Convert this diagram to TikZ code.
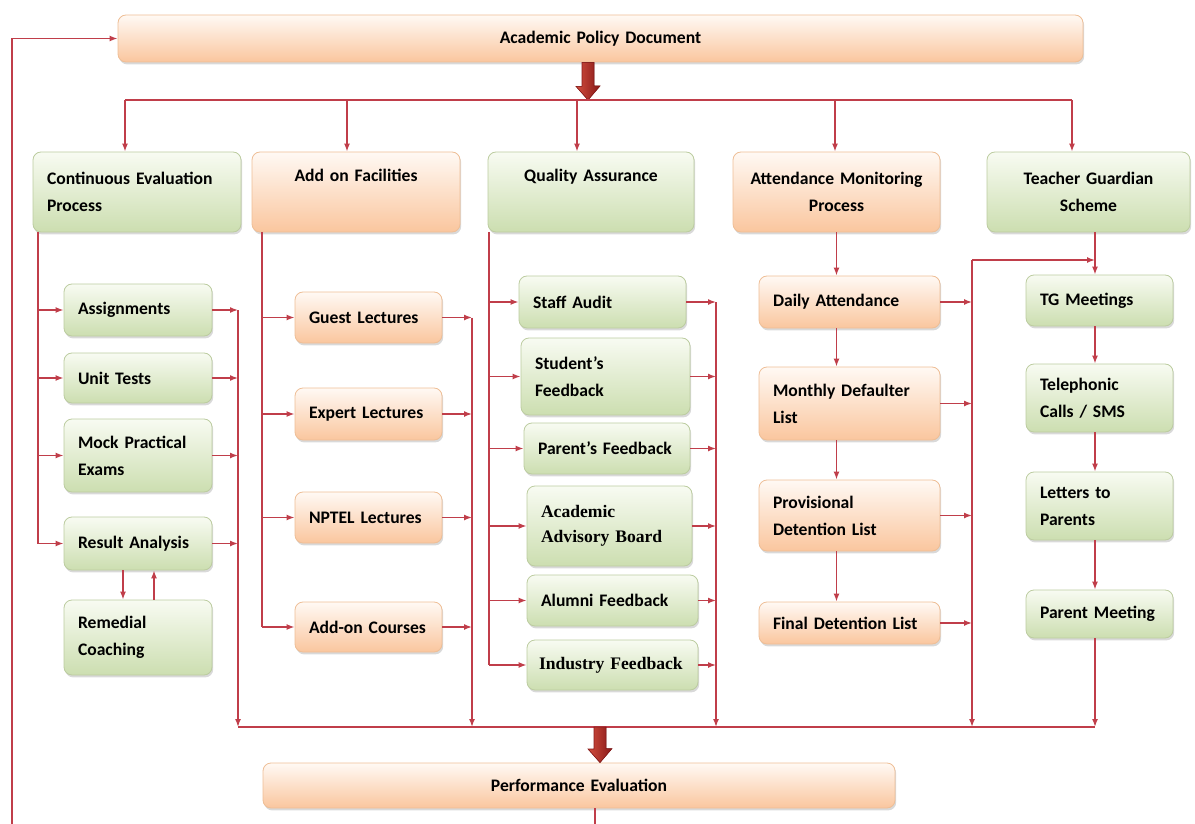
\documentclass[tikz,border=0pt]{standalone}
\usepackage{fontspec}
\setmainfont{Carlito}
\newfontfamily\serifbf{Liberation Serif}
\usetikzlibrary{arrows.meta,shadows}

\definecolor{linered}{RGB}{192,62,74}
\definecolor{gtop}{RGB}{248,251,242}
\definecolor{gbot}{RGB}{204,222,176}
\definecolor{gline}{RGB}{188,204,160}
\definecolor{otop}{RGB}{255,249,244}
\definecolor{obot}{RGB}{250,198,158}
\definecolor{oline}{RGB}{238,190,150}
\definecolor{arrowdark}{RGB}{135,24,24}
\definecolor{arrowlight}{RGB}{210,78,62}

\begin{document}
\begin{tikzpicture}[x=0.5pt,y=-0.5pt,>={Latex[length=4pt,width=3pt]},
	line/.style={draw=linered,line width=0.75pt},
	link/.style={line,->},
	box/.style={rectangle,rounded corners=4pt,line width=0.4pt,inner xsep=7pt,inner ysep=4pt,
		align=left,font=\fontsize{8.8}{13.5}\selectfont\bfseries,
		drop shadow={opacity=0.3,shadow xshift=0.6pt,shadow yshift=-1.2pt}},
	gbox/.style={box,draw=gline,top color=gtop,bottom color=gbot},
	obox/.style={box,draw=oline,top color=otop,bottom color=obot},
	hdr/.style={minimum height=40pt,inner ysep=6pt,align=center},
	bigarrow/.style={left color=arrowlight,right color=arrowdark,draw=arrowdark,line width=0.3pt}]
	\useasboundingbox (0,0) rectangle (1195,824);

	\node[obox,text width=468.5pt,align=center,minimum height=23.5pt] (apd) at (600.5,38.5) {Academic Policy Document};

	\node[gbox,hdr,text width=90pt,align=left] (cep) at (137,192) {Continuous Evaluation\\Process};
	\node[obox,hdr,text width=90pt,text depth=16.5pt] (aof) at (356,192) {Add on Facilities};
	\node[gbox,hdr,text width=89pt,text depth=16.5pt] (qa) at (591,192) {Quality Assurance};
	\node[obox,hdr,text width=89.5pt] (amp) at (836.5,192) {Attendance Monitoring\\Process};
	\node[gbox,hdr,text width=87.5pt] (tgs) at (1088.5,192) {Teacher Guardian\\Scheme};

	\node[gbox,text width=60pt,minimum height=26pt] (asg) at (138,310) {Assignments};
	\node[gbox,text width=60pt,minimum height=25pt] (ut) at (138,378) {Unit Tests};
	\node[gbox,text width=60pt,minimum height=36.5pt] (mpe) at (138,455.5) {Mock Practical\\Exams};
	\node[gbox,text width=60pt,minimum height=26.5pt] (ra) at (138,543.5) {Result Analysis};
	\node[gbox,text width=60pt,minimum height=37.5pt] (rc) at (138,637.5) {Remedial\\Coaching};

	\node[obox,text width=59.5pt,minimum height=25.5pt] (gl) at (368.5,317.5) {Guest Lectures};
	\node[obox,text width=59.5pt,minimum height=26pt] (el) at (368.5,414) {Expert Lectures};
	\node[obox,text width=59.5pt,minimum height=25.5pt] (nl) at (368.5,517.5) {NPTEL Lectures};
	\node[obox,text width=59.5pt,minimum height=25pt] (ac) at (368.5,627) {Add-on Courses};

	\node[gbox,text width=69.5pt,minimum height=26pt] (sa) at (602.5,302) {Staff Audit};
	\node[gbox,text width=70.5pt,minimum height=38.5pt] (sf) at (605.5,376.5) {Student’s\\Feedback};
	\node[gbox,text width=69pt,minimum height=25.5pt] (pf) at (607,448.5) {Parent’s Feedback};
	\node[gbox,text width=68.5pt,minimum height=40pt,font=\fontsize{8.8}{12.5}\selectfont\serifbf\bfseries] (aab) at (609.5,526) {Academic\\Advisory Board};
	\node[gbox,text width=71.5pt,minimum height=25.5pt] (alf) at (612.5,600.5) {Alumni Feedback};
	\node[gbox,text width=73.5pt,inner xsep=6pt,minimum height=25pt,font=\fontsize{8.8}{12.5}\selectfont\serifbf\bfseries] (inf) at (612.5,665) {Industry Feedback};

	\node[obox,text width=76.5pt,minimum height=26pt] (da) at (849.5,302) {Daily Attendance};
	\node[obox,text width=76.5pt,minimum height=36.5pt] (mdl) at (849.5,403.5) {Monthly Defaulter\\List};
	\node[obox,text width=76.5pt,minimum height=35.5pt] (pdl) at (849.5,515.5) {Provisional\\Detention List};
	\node[obox,text width=76.5pt,minimum height=21pt] (fdl) at (849.5,623) {Final Detention List};

	\node[gbox,text width=59.5pt,minimum height=25.5pt] (tgm) at (1099.5,300.5) {TG Meetings};
	\node[gbox,text width=59.5pt,minimum height=34pt] (tcs) at (1099.5,398) {Telephonic\\Calls / SMS};
	\node[gbox,text width=59.5pt,minimum height=34pt] (ltp) at (1099.5,506) {Letters to\\Parents};
	\node[gbox,text width=59.5pt,minimum height=24pt] (pm) at (1099.5,614) {Parent Meeting};

	\node[obox,text width=302pt,align=center,minimum height=22.5pt] (pe) at (579,785.5) {Performance Evaluation};

	\coordinate (b1) at (125,100);
	\coordinate (b2) at (347,100);
	\coordinate (b3) at (577,100);
	\coordinate (b4) at (835,100);
	\coordinate (b5) at (1072,100);
	\coordinate (bt) at (588,100);
	\coordinate (t1) at (38,232);
	\coordinate (t2) at (262,232);
	\coordinate (t3) at (489,232);
	\coordinate (c1) at (238,727);
	\coordinate (c2) at (472,727);
	\coordinate (c3) at (716,727);
	\coordinate (c4) at (972,727);
	\coordinate (c5) at (1095,727);
	\coordinate (bb) at (600,727);
	\coordinate (tj) at (1095,260);
	\coordinate (f1) at (12,824);
	\coordinate (f2) at (595,824);

	% from the policy document down to the five heads
	\fill[bigarrow] ([xshift=-3pt]apd.south -| bt) -- ++(0,-12pt) -- ++(-3pt,0) -- (bt) -- ++(6pt,7pt) -- ++(-3pt,0) -- ([xshift=3pt]apd.south -| bt) -- cycle;
	\draw[line] (b1) -- (b5);
	\foreach \b/\h in {b1/cep,b2/aof,b3/qa,b4/amp,b5/tgs}
		\draw[link] (\b) -- (\b |- \h.north);

	\draw[line] (t1) -- (t1 |- ra.west);
	\foreach \n in {asg,ut,mpe,ra} {
		\draw[link] (t1 |- \n.west) -- (\n.west);
		\draw[link] (\n.east) -- (\n.east -| c1);
	}
	\draw[link] (c1 |- asg.east) -- (c1);
	\draw[link] ([xshift=-7.5pt]ra.south) -- ([xshift=-7.5pt]rc.north);
	\draw[link] ([xshift=8pt]rc.north) -- ([xshift=8pt]ra.south);

	\draw[line] (t2) -- (t2 |- ac.west);
	\foreach \n in {gl,el,nl,ac} {
		\draw[link] (t2 |- \n.west) -- (\n.west);
		\draw[link] (\n.east) -- (\n.east -| c2);
	}
	\draw[link] (c2 |- gl.east) -- (c2);

	\draw[line] (t3) -- (t3 |- inf.west);
	\foreach \n in {sa,sf,pf,aab,alf,inf} {
		\draw[link] (t3 |- \n.west) -- (\n.west);
		\draw[link] (\n.east) -- (\n.east -| c3);
	}
	\draw[link] (c3 |- sa.east) -- (c3);

	\draw[link] (amp.south) -- (amp.south |- da.north);
	\draw[link] (amp.south |- da.south) -- (amp.south |- mdl.north);
	\draw[link] (amp.south |- mdl.south) -- (amp.south |- pdl.north);
	\draw[link] (amp.south |- pdl.south) -- (amp.south |- fdl.north);
	\foreach \n in {da,mdl,pdl,fdl}
		\draw[link] (\n.east) -- (\n.east -| c4);
	\draw[link] (c4 |- tj) -- (c4);
	\draw[link] (c4 |- tj) -- (tj);

	\draw[link] (c5 |- tgs.south) -- (c5 |- tgm.north);
	\draw[link] (c5 |- tgm.south) -- (c5 |- tcs.north);
	\draw[link] (c5 |- tcs.south) -- (c5 |- ltp.north);
	\draw[link] (c5 |- ltp.south) -- (c5 |- pm.north);
	\draw[link] (c5 |- pm.south) -- (c5);

	% collected into the evaluation
	\draw[line] (c1) -- (c5);
	\fill[bigarrow] ([xshift=-3pt]bb) -- ++(0,-11pt) -- ++(-3pt,0) -- (bb |- pe.north) -- ++(6pt,7pt) -- ++(-3pt,0) -- ([xshift=3pt]bb) -- cycle;

	\draw[link] (f1) |- (apd.west);
	\draw[line] (f2 |- pe.south) -- (f2);
\end{tikzpicture}
\end{document}
